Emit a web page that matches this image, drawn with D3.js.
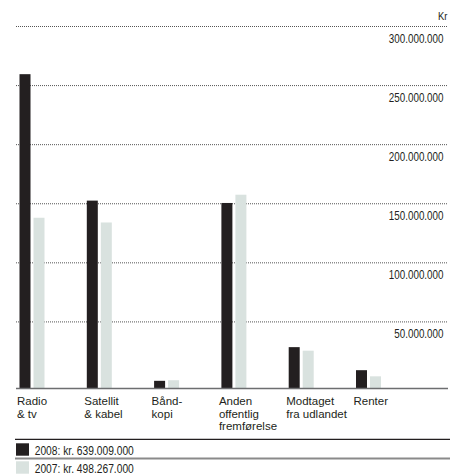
<!DOCTYPE html>
<html lang="da">
<head>
    <meta charset="UTF-8">
    <title>Indtægter 2008 / 2007</title>
    <script src="https://cdnjs.cloudflare.com/ajax/libs/d3/7.8.5/d3.min.js"></script>
    <style>
        body {
            margin: 0;
            background: #fff;
        }
        svg { display: block; }
        .tick-label { font-family: "Liberation Sans", Arial, sans-serif; font-size: 12px; fill: #231f20; }
        .cat-label { font-family: "Liberation Sans", Arial, sans-serif; font-size: 11.5px; fill: #231f20; }
        .legend-label { font-family: "Liberation Sans", Arial, sans-serif; font-size: 12.5px; fill: #231f20; }
    </style>
</head>
<body>
    <div id="chart"></div>

    <script>
        // Data (kr.)
        const categories = ['Radio & tv', 'Satellit & kabel', 'Båndkopi', 'Anden offentlig fremførelse', 'Modtaget fra udlandet', 'Renter'];
        const categoryLines = [
            ['Radio', '& tv'],
            ['Satellit', '& kabel'],
            ['Bånd-', 'kopi'],
            ['Anden', 'offentlig', 'fremførelse'],
            ['Modtaget', 'fra udlandet'],
            ['Renter']
        ];
        const years = ['2008', '2007'];
        const values2008 = [266000000, 159000000, 6500000, 157000000, 35000000, 15500000];
        const values2007 = [144500000, 140500000, 7000000, 164000000, 32000000, 10300000];
        const totals = [639009000, 498267000];
        const yTicks = [50000000, 100000000, 150000000, 200000000, 250000000, 300000000];
        const colors = ['#231f20', '#d9e2df'];

        const width = 460;
        const height = 475;

        const da = d3.formatLocale({ decimal: ',', thousands: '.', grouping: [3], currency: ['kr. ', ''] });
        const fmt = da.format(',d');

        // no narrow font installed, so squeeze Liberation Sans like Arial Narrow
        const narrow = 0.82;

        const svg = d3.select('#chart')
            .append('svg')
            .attr('width', width)
            .attr('height', height);

        const left = 16, right = 448;
        const baseY = 388.5;
        // grid lines sit a little above their value in the original
        const gridShift = 7.5;

        const y = d3.scaleLinear()
            .domain([0, 300000000])
            .range([baseY, 34]);

        const x = d3.scaleBand()
            .domain(categories)
            .range([19.5, 19.5 + 6 * 67.3]);

        const xYear = d3.scaleBand()
            .domain(years)
            .range([0, 25])
            .paddingInner(0.2143);

        // gridlines + tick labels
        const grid = svg.append('g');
        grid.selectAll('line')
            .data(yTicks)
            .enter().append('line')
            .attr('x1', left)
            .attr('x2', right)
            .attr('y1', d => y(d) - gridShift)
            .attr('y2', d => y(d) - gridShift)
            .attr('stroke', '#555')
            .attr('stroke-width', 1)
            .attr('stroke-dasharray', '1,1');

        grid.selectAll('text')
            .data(yTicks)
            .enter().append('text')
            .attr('class', 'tick-label')
            .attr('transform', d => `translate(443.5,${y(d) - gridShift + 16.2}) scale(${narrow},1)`)
            .attr('text-anchor', 'end')
            .text(d => fmt(d));

        svg.append('text')
            .attr('class', 'tick-label')
            .attr('transform', `translate(447.5,19.5) scale(${narrow},1)`)
            .attr('text-anchor', 'end')
            .style('font-size', '11.5px')
            .text('Kr');

        // bars
        const series = [values2008, values2007];
        const groups = svg.append('g')
            .selectAll('g')
            .data(categories)
            .enter().append('g')
            .attr('transform', d => `translate(${x(d)},0)`);

        groups.selectAll('rect')
            .data((d, i) => years.map((yr, k) => ({ year: yr, value: series[k][i], k })))
            .enter().append('rect')
            .attr('x', d => xYear(d.year))
            .attr('width', xYear.bandwidth())
            .attr('y', d => y(d.value))
            .attr('height', d => baseY - y(d.value))
            .attr('fill', d => colors[d.k]);

        // baseline
        svg.append('line')
            .attr('x1', left)
            .attr('x2', right)
            .attr('y1', baseY)
            .attr('y2', baseY)
            .attr('stroke', '#6d6e70')
            .attr('stroke-width', 1.3);

        // category labels
        groups.append('text')
            .attr('class', 'cat-label')
            .attr('y', 405)
            .selectAll('tspan')
            .data((d, i) => categoryLines[i])
            .enter().append('tspan')
            .attr('x', -2.5)
            .attr('dy', (d, i) => i === 0 ? 0 : 12.7)
            .text(d => d);

        // legend
        const legendTop = 439.3;
        svg.append('line')
            .attr('x1', 15)
            .attr('x2', 450)
            .attr('y1', legendTop)
            .attr('y2', legendTop)
            .attr('stroke', '#231f20')
            .attr('stroke-width', 1.2);

        svg.append('line')
            .attr('x1', 15)
            .attr('x2', 450)
            .attr('y1', 458.5)
            .attr('y2', 458.5)
            .attr('stroke', '#8a8a8a')
            .attr('stroke-width', 1.8);

        const legend = svg.append('g')
            .selectAll('g')
            .data(years)
            .enter().append('g')
            .attr('transform', (d, i) => `translate(16,${443.3 + i * 18})`);

        legend.append('rect')
            .attr('width', 13)
            .attr('height', 12.4)
            .attr('fill', (d, i) => colors[i]);

        legend.append('text')
            .attr('class', 'legend-label')
            .attr('transform', `translate(18.7,11.4) scale(${narrow},1)`)
            .text((d, i) => `${d}: kr. ${fmt(totals[i])}`);
    </script>
</body>
</html>
